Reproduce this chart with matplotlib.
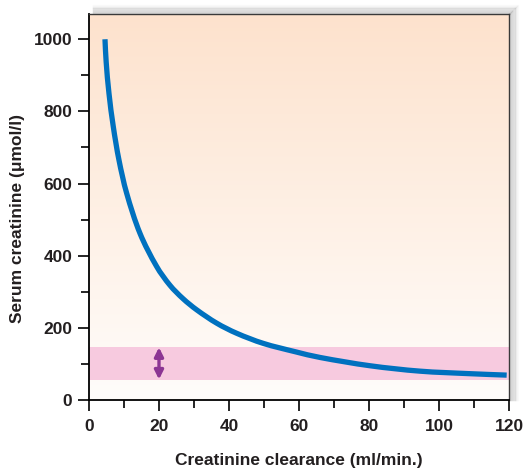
import numpy as np
import matplotlib
matplotlib.use('Agg')
import matplotlib.pyplot as plt
from matplotlib.ticker import MultipleLocator
from matplotlib.path import Path
from matplotlib.patches import PathPatch

# curve
clearance = [4.57, 4.91, 5.71, 6.94, 8.57, 10.77, 14.57, 19.34, 23.14, 26.86,
             30.77, 36.49, 42.2, 49.8, 58.86, 66.0, 80.29, 94.57, 108.86, 119.34]
creatinine = [1000, 937, 850, 758, 665, 573, 462, 370, 318, 281,
              250, 213, 185, 157, 134, 118, 95, 80, 73, 69]

# normal range band and arrow
normal_low = 55
normal_high = 147
arrow_x = 20
arrow_low = 57
arrow_high = 146

x_ticks = [0, 20, 40, 60, 80, 100, 120]
y_ticks = [0, 200, 400, 600, 800, 1000]


def smooth_path(ax, xs, ys):
    # chord-length catmull-rom through the read points, done in screen space
    pts = ax.transData.transform(np.column_stack([xs, ys]))
    d = np.linalg.norm(np.diff(pts, axis=0), axis=1)
    n = len(pts)
    m = np.zeros_like(pts)
    m[0] = (pts[1] - pts[0]) / d[0]
    m[-1] = (pts[-1] - pts[-2]) / d[-1]
    for i in range(1, n - 1):
        m[i] = (pts[i + 1] - pts[i - 1]) / (d[i - 1] + d[i])
    verts = [pts[0]]
    codes = [Path.MOVETO]
    for i in range(n - 1):
        verts += [pts[i] + m[i] * d[i] / 3, pts[i + 1] - m[i + 1] * d[i] / 3, pts[i + 1]]
        codes += [Path.CURVE4] * 3
    verts = ax.transData.inverted().transform(np.array(verts))
    return Path(verts, codes)


plt.rcParams['font.family'] = ['Liberation Sans', 'DejaVu Sans']

fig = plt.figure(figsize=(5.25, 4.71), dpi=100)
ax = fig.add_axes([0.1695, 0.1507, 0.8, 0.8196])

x_max = 120
y_max = 1070
ax.set_xlim(0, x_max)
ax.set_ylim(0, y_max)

# gradient background
grad = np.linspace(0, 1, 256).reshape(-1, 1)
top = np.array([253, 226, 205]) / 255
bottom = np.array([255, 253, 251]) / 255
img = (bottom + (top - bottom) * grad).reshape(256, 1, 3)
ax.imshow(img, extent=[0, x_max, 0, y_max], origin='lower', aspect='auto', zorder=0)
ax.set_xlim(0, x_max)
ax.set_ylim(0, y_max)

ax.axhspan(normal_low, normal_high, color='#f7cadf', zorder=1, lw=0)

ax.add_patch(PathPatch(smooth_path(ax, clearance, creatinine), fill=False,
                       edgecolor='#0071bf', lw=3.8, capstyle='butt',
                       joinstyle='round', zorder=3))

ax.annotate('', xy=(arrow_x, arrow_low), xytext=(arrow_x, arrow_high),
            arrowprops=dict(arrowstyle='<|-|>', color='#8c3593', lw=2.4,
                            mutation_scale=13, shrinkA=0, shrinkB=0), zorder=4)

ax.set_xticks(x_ticks)
ax.set_yticks(y_ticks)
ax.xaxis.set_minor_locator(MultipleLocator(10))
ax.yaxis.set_minor_locator(MultipleLocator(100))
ax.tick_params(which='major', length=8, width=1.2, labelsize=12.5)
ax.tick_params(axis='x', which='major', pad=6)
ax.tick_params(axis='y', which='major', pad=4)
ax.tick_params(which='minor', length=6, width=1.2)

for lab in ax.get_xticklabels() + ax.get_yticklabels():
    lab.set_fontweight('bold')
    lab.set_color('#231f20')

ax.set_xlabel('Creatinine clearance (ml/min.)', fontsize=12.5, fontweight='bold',
              color='#231f20', labelpad=13)
ax.set_ylabel('Serum creatinine (\u03bcmol/l)', fontsize=12.5, fontweight='bold',
              color='#231f20')
ax.yaxis.set_label_coords(-0.152, 0.47)

ax.spines['left'].set_linewidth(1.3)
ax.spines['bottom'].set_linewidth(1.3)
for side in ['top', 'right']:
    ax.spines[side].set_color('#3a3a3a')
    ax.spines[side].set_linewidth(1.0)

# soft shadow on top and right edges
for i in range(1, 11):
    a = 0.3 * (1 - i / 11)
    ax.plot([0.01, 1 + i * 0.002], [1 + i * 0.0024, 1 + i * 0.0024], transform=ax.transAxes,
            color='gray', alpha=a, lw=1, clip_on=False)
    ax.plot([1 + i * 0.0022, 1 + i * 0.0022], [0, 1 + i * 0.0024], transform=ax.transAxes,
            color='gray', alpha=a, lw=1, clip_on=False)

fig.savefig('out.png', dpi=100, facecolor='white')
